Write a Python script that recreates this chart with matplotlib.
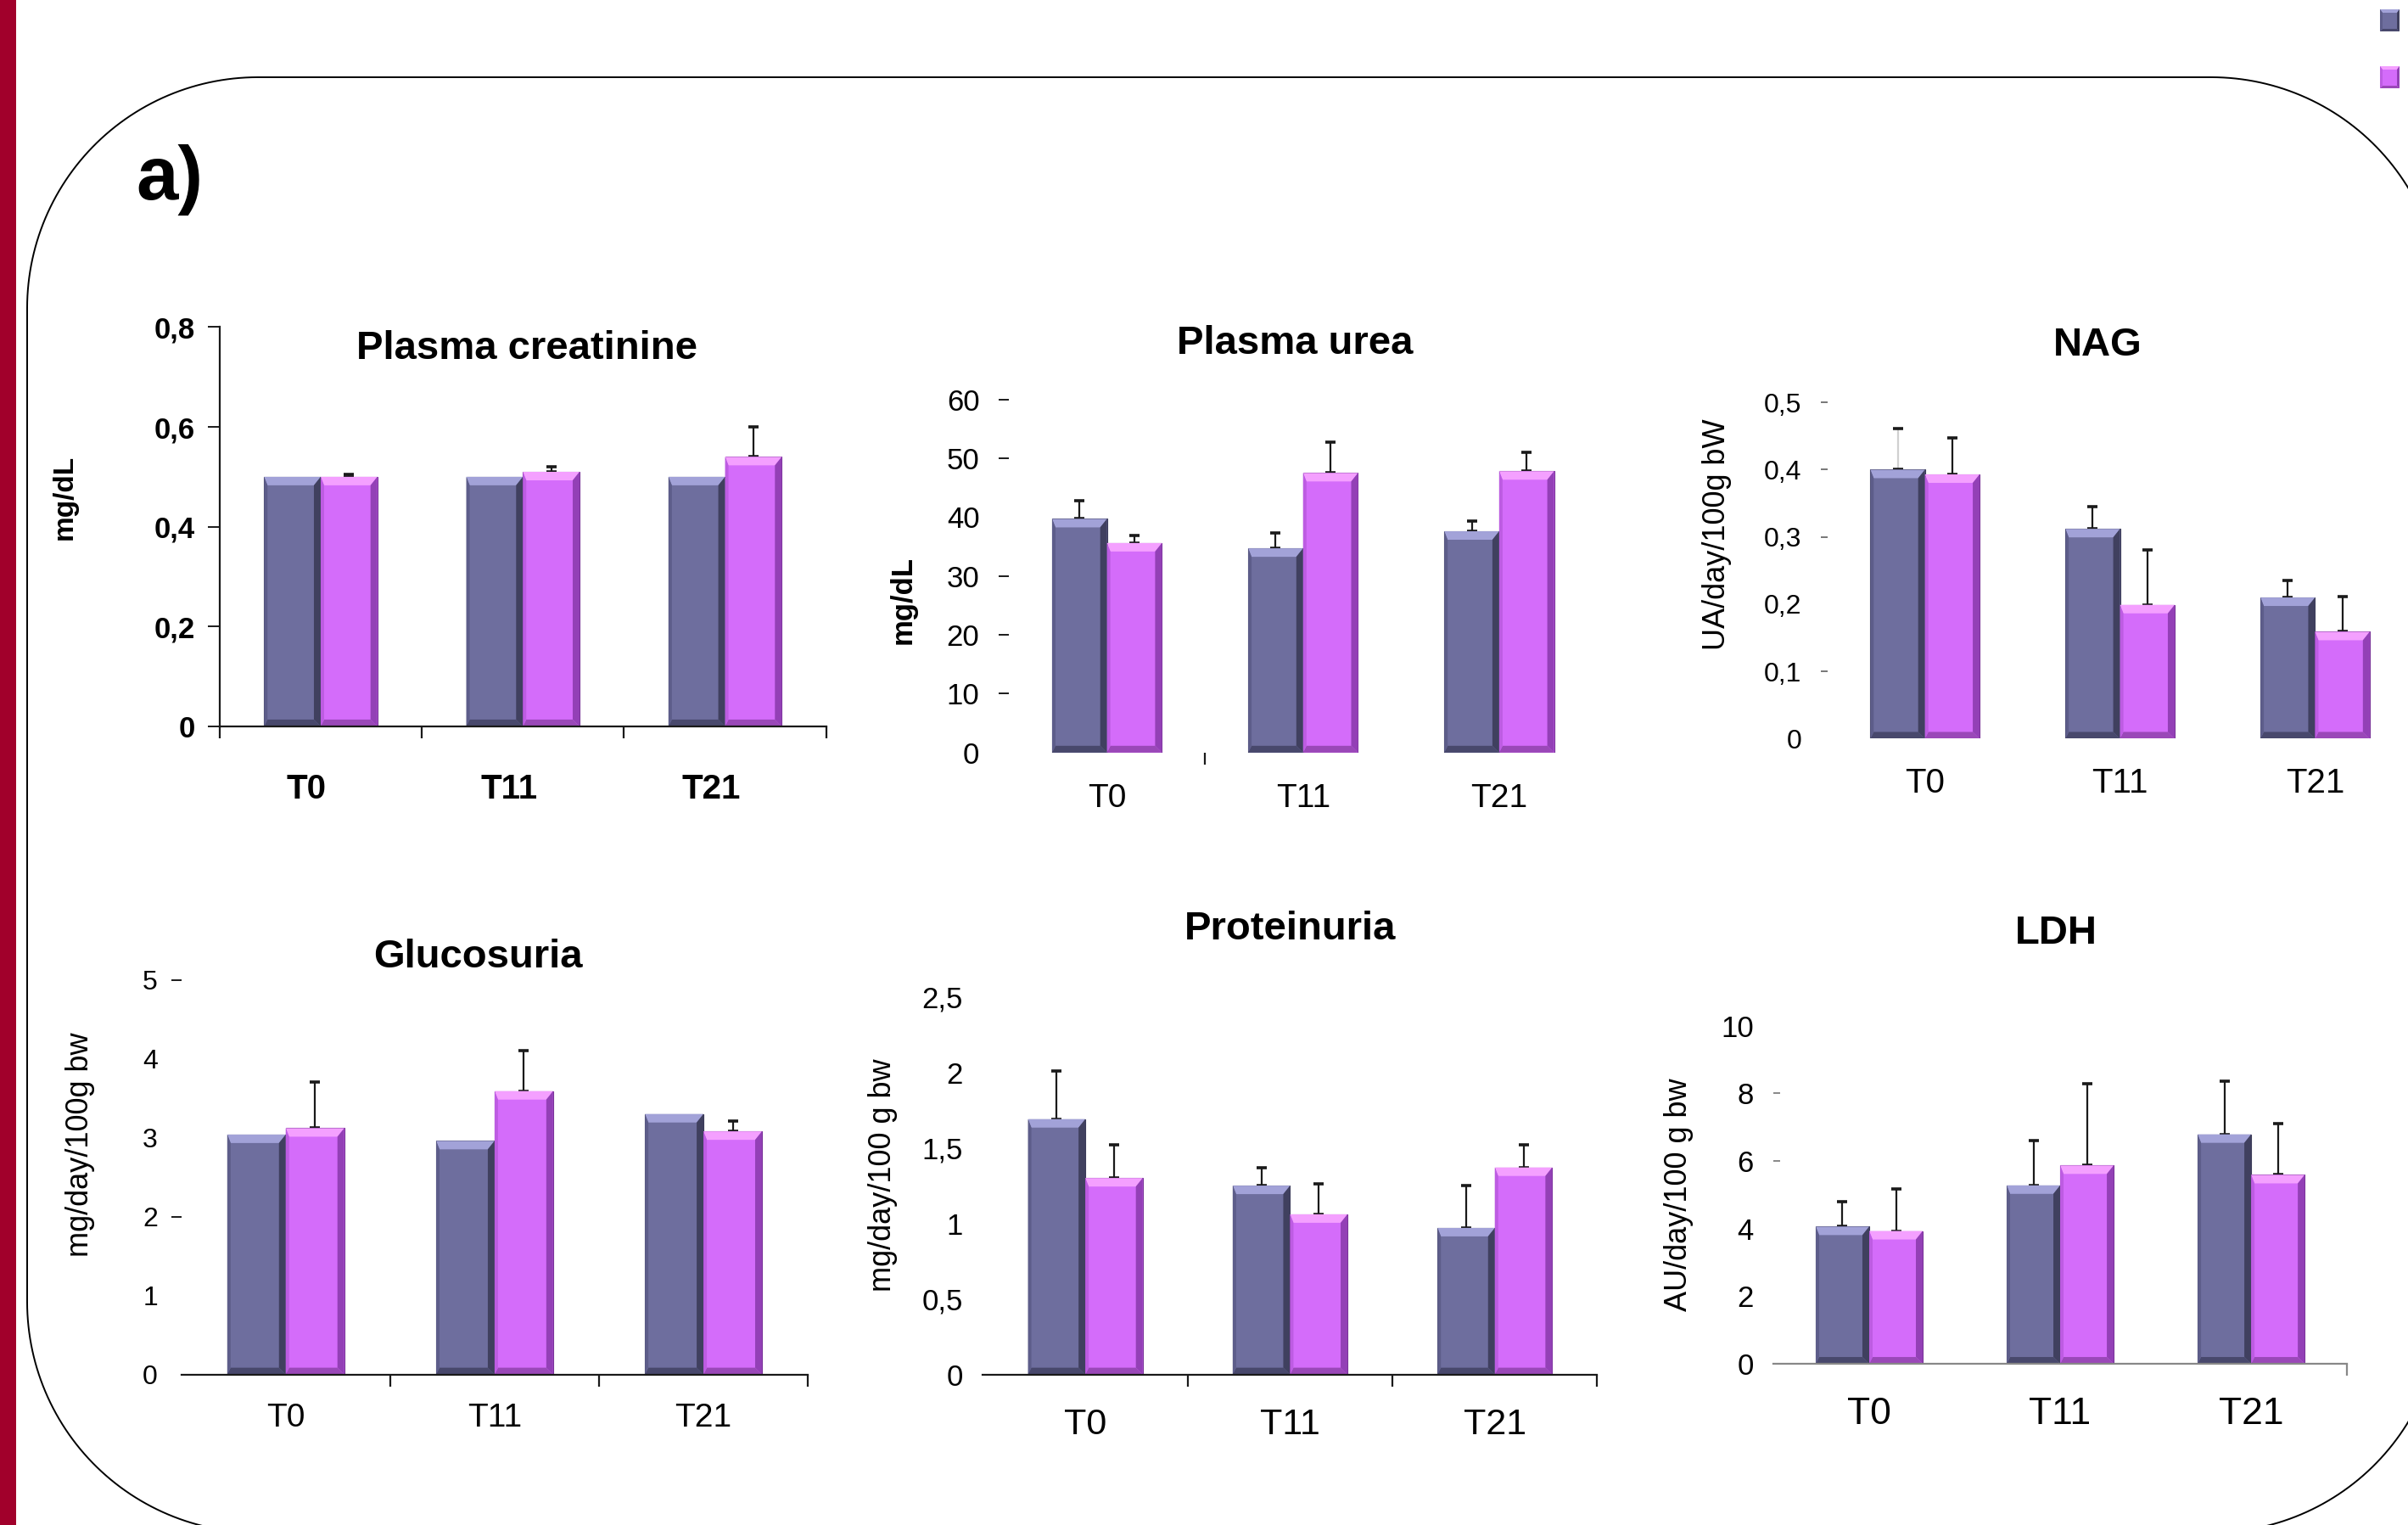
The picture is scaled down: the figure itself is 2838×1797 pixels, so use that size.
import numpy as np
import matplotlib
matplotlib.use('Agg')
import matplotlib.pyplot as plt
from matplotlib.patches import Polygon, Rectangle
from matplotlib.ticker import NullFormatter
from matplotlib.transforms import IdentityTransform, ScaledTranslation

plt.rcParams['font.family'] = ['Liberation Sans', 'DejaVu Sans']

W, H = 2838, 1797
times = ['T0', 'T11', 'T21']

# means and upper SD, dark = control group, pink = treated group
creat_ctrl = [0.50, 0.50, 0.50]
creat_ctrl_sd = [0.0, 0.0, 0.0]
creat_trt = [0.50, 0.51, 0.54]
creat_trt_sd = [0.005, 0.01, 0.06]
creat_ticks = [0, 0.2, 0.4, 0.6, 0.8]
creat_ticklabels = ['0', '0,2', '0,4', '0,6', '0,8']

urea_ctrl = [39.7, 34.7, 37.6]
urea_ctrl_sd = [3.1, 2.6, 1.7]
urea_trt = [35.6, 47.5, 47.8]
urea_trt_sd = [1.3, 5.2, 3.2]
urea_ticks = [0, 10, 20, 30, 40, 50, 60]
urea_ticklabels = ['0', '10', '20', '30', '40', '50', '60']

nag_ctrl = [0.400, 0.312, 0.210]
nag_ctrl_sd = [0.061, 0.033, 0.025]
nag_trt = [0.393, 0.199, 0.159]
nag_trt_sd = [0.054, 0.082, 0.052]
nag_ticks = [0, 0.1, 0.2, 0.3, 0.4, 0.5]
nag_ticklabels = ['0', '0,1', '0,2', '0,3', '0,4', '0,5']

gluc_ctrl = [3.04, 2.96, 3.30]
gluc_ctrl_sd = [0.0, 0.0, 0.0]
gluc_trt = [3.12, 3.59, 3.08]
gluc_trt_sd = [0.58, 0.51, 0.13]
gluc_ticks = [0, 1, 2, 3, 4, 5]
gluc_ticklabels = ['0', '1', '2', '3', '4', '5']

prot_ctrl = [1.69, 1.25, 0.97]
prot_ctrl_sd = [0.32, 0.12, 0.28]
prot_trt = [1.30, 1.06, 1.37]
prot_trt_sd = [0.22, 0.20, 0.15]
prot_ticks = [0, 0.5, 1, 1.5, 2, 2.5]
prot_ticklabels = ['0', '0,5', '1', '1,5', '2', '2,5']

ldh_ctrl = [4.06, 5.28, 6.79]
ldh_ctrl_sd = [0.73, 1.33, 1.58]
ldh_trt = [3.93, 5.87, 5.59]
ldh_trt_sd = [1.24, 2.42, 1.52]
ldh_ticks = [0, 2, 4, 6, 8, 10]
ldh_ticklabels = ['0', '2', '4', '6', '8', '10']

ink = '#1a1a1a'
dark_shades = dict(face='#6e6e9e', edge='#3a3a58',
                   bevel=['#a2a2d8', '#40405f', '#48486c', '#5d5d8a'])
pink_shades = dict(face='#d46cfa', edge='#7a3399',
                   bevel=['#f4a0ff', '#9340b6', '#9a48b8', '#bd5ce2'])

panels = [
    dict(title='Plasma creatinine', ylabel='mg/dL',
         ctrl=creat_ctrl, ctrl_sd=creat_ctrl_sd, trt=creat_trt, trt_sd=creat_trt_sd,
         ticks=creat_ticks, ticklabels=creat_ticklabels,
         pos=[0.0912, 0.5237, 0.2519, 0.2618], title_xy=(0.506, 0.946), ylab_xy=(0.0268, 0.6737),
         weight='bold', ylab_weight='bold', tick_fs=25, x_fs=29, ylab_fs=24, xshift=-12,
         ymarks=creat_ticks, ymark_len=10, ymark_col=ink, ydir='out', ypad=11,
         xmarks=[-0.5, 0.5, 1.5, 2.5], xmark_col=ink, xpad=40,
         spines=dict(left=ink, bottom=ink)),
    dict(title='Plasma urea', ylabel='mg/dL',
         ctrl=urea_ctrl, ctrl_sd=urea_ctrl_sd, trt=urea_trt, trt_sd=urea_trt_sd,
         ticks=urea_ticks, ticklabels=urea_ticklabels,
         pos=[0.4190, 0.5065, 0.2443, 0.2316], title_xy=(0.486, 1.157), ylab_xy=(0.375, 0.6063),
         weight='normal', ylab_weight='bold', tick_fs=25, x_fs=28, ylab_fs=25, xshift=0,
         ymarks=[10, 20, 30, 50, 60], ymark_len=9, ymark_col=ink, ydir='out', ypad=16,
         xmarks=[0.5], xmark_col=ink, xpad=26, spines={}),
    dict(title='NAG', ylabel='UA/day/100g bW',
         ctrl=nag_ctrl, ctrl_sd=nag_ctrl_sd, trt=nag_trt, trt_sd=nag_trt_sd,
         ticks=nag_ticks, ticklabels=nag_ticklabels,
         pos=[0.7589, 0.5156, 0.2430, 0.2205], title_xy=(0.462, 1.169), ylab_xy=(0.713, 0.6495),
         weight='normal', ylab_weight='normal', tick_fs=23, x_fs=29, ylab_fs=26, xshift=0,
         ymarks=[0.1, 0.3, 0.4, 0.5], ymark_len=6, ymark_col='#777777', ydir='out', ypad=16,
         xmarks=[], xmark_col=ink, xpad=24, spines={},
         ctrl_ecolors=['#d0d0d0', ink, ink]),
    dict(title='Glucosuria', ylabel='mg/day/100g bw',
         ctrl=gluc_ctrl, ctrl_sd=gluc_ctrl_sd, trt=gluc_trt, trt_sd=gluc_trt_sd,
         ticks=gluc_ticks, ticklabels=gluc_ticklabels,
         pos=[0.0753, 0.0987, 0.2602, 0.2588], title_xy=(0.473, 1.058), ylab_xy=(0.0332, 0.2497),
         weight='normal', ylab_weight='normal', tick_fs=23, x_fs=28, ylab_fs=26, xshift=0,
         ymarks=[2, 5], ymark_len=9, ymark_col=ink, ydir='out', ypad=11,
         xmarks=[0.5, 1.5, 2.5], xmark_col=ink, xpad=24, spines=dict(bottom=ink)),
    dict(title='Proteinuria', ylabel='mg/day/100 g bw',
         ctrl=prot_ctrl, ctrl_sd=prot_ctrl_sd, trt=prot_trt, trt_sd=prot_trt_sd,
         ticks=prot_ticks, ticklabels=prot_ticklabels,
         pos=[0.4082, 0.0987, 0.2551, 0.2477], title_xy=(0.5, 1.179), ylab_xy=(0.3667, 0.2296),
         weight='normal', ylab_weight='normal', tick_fs=25, x_fs=31, ylab_fs=26, xshift=0,
         ymarks=[], ymark_len=0, ymark_col=ink, ydir='out', ypad=17,
         xmarks=[0.5, 1.5, 2.5], xmark_col=ink, xpad=28, spines=dict(bottom=ink)),
    dict(title='LDH', ylabel='AU/day/100 g bw',
         ctrl=ldh_ctrl, ctrl_sd=ldh_ctrl_sd, trt=ldh_trt, trt_sd=ldh_trt_sd,
         ticks=ldh_ticks, ticklabels=ldh_ticklabels,
         pos=[0.7366, 0.1057, 0.2379, 0.2216], title_xy=(0.493, 1.273), ylab_xy=(0.6971, 0.2165),
         weight='normal', ylab_weight='normal', tick_fs=25, x_fs=32, ylab_fs=26, xshift=0,
         ymarks=[6, 8], ymark_len=6, ymark_col='#888888', ydir='in', ypad=17,
         xmarks=[2.5], xmark_col='#888888', xpad=28, spines=dict(bottom='#888888')),
]


def bevel(x0, y0, x1, y1, bl, br, bb, bt):
    top = [(x0, y1), (x1, y1), (x1 - br, y1 - bt), (x0 + bl, y1 - bt)]
    right = [(x1, y1), (x1, y0), (x1 - br, y0 + bb), (x1 - br, y1 - bt)]
    bottom = [(x0, y0), (x1, y0), (x1 - br, y0 + bb), (x0 + bl, y0 + bb)]
    left = [(x0, y0), (x0, y1), (x0 + bl, y1 - bt), (x0 + bl, y0 + bb)]
    return [top, right, bottom, left]


def shade_bars(ax, bars, shades):
    pos = ax.get_position()
    xl, yl = ax.get_xlim(), ax.get_ylim()
    sx = pos.width * W / (xl[1] - xl[0])
    sy = pos.height * H / (yl[1] - yl[0])
    for r in bars:
        x0, y0 = r.get_x(), r.get_y()
        x1, y1 = x0 + r.get_width(), y0 + r.get_height()
        for verts, c in zip(bevel(x0, y0, x1, y1, 4 / sx, 8 / sx, 8 / sy, 10 / sy), shades['bevel']):
            ax.add_patch(Polygon(verts, closed=True, fc=c, ec='none', zorder=2.5))


def rounded_frame(x0, y0, x1, y1, r, n=60):
    # rectangle with circular corners, in pixel coordinates
    pts = []
    corners = [(x1 - r, y1 - r, 90, 0), (x1 - r, y0 + r, 0, -90),
               (x0 + r, y0 + r, -90, -180), (x0 + r, y1 - r, 180, 90)]
    for cx, cy, a0, a1 in corners:
        a = np.radians(np.linspace(a0, a1, n))
        pts.extend(zip(cx + r * np.cos(a), cy + r * np.sin(a)))
    return pts


fig = plt.figure(figsize=(W / 100, H / 100), dpi=100)

x = np.arange(len(times))
bw = 0.28
for p in panels:
    ax = fig.add_axes(p['pos'])
    ax.set_xlim(-0.5, 2.5)
    ax.set_ylim(p['ticks'][0], p['ticks'][-1])
    ax.set_autoscale_on(False)

    series = [(x - bw / 2, p['ctrl'], p['ctrl_sd'], dark_shades, p.get('ctrl_ecolors')),
              (x + bw / 2, p['trt'], p['trt_sd'], pink_shades, None)]
    for xs, vals, sd, sh, ecols in series:
        bars = ax.bar(xs, vals, bw, color=sh['face'], edgecolor=sh['edge'], linewidth=0.8, zorder=2)
        shade_bars(ax, bars, sh)
        sd = np.asarray(sd)
        keep = sd > 0
        if keep.any():
            _, caps, lines = ax.errorbar(xs[keep], np.asarray(vals)[keep],
                                         yerr=[np.zeros(keep.sum()), sd[keep]],
                                         fmt='none', ecolor=ink, elinewidth=1.6,
                                         capsize=4, capthick=2.6, zorder=1)
            if ecols is not None:
                lines[0].set_color([c for c, k in zip(ecols, keep) if k])

    for side in ['left', 'right', 'top', 'bottom']:
        col = p['spines'].get(side)
        if col is None:
            ax.spines[side].set_visible(False)
        else:
            ax.spines[side].set_color(col)
            ax.spines[side].set_linewidth(1.6)

    # y axis: labels everywhere, tick dashes only where drawn
    ax.set_yticks(p['ticks'])
    ax.set_yticklabels(p['ticklabels'], fontsize=p['tick_fs'], fontweight=p['weight'])
    ax.tick_params(axis='y', length=p['ymark_len'], width=1.4, color=p['ymark_col'],
                   direction=p['ydir'], pad=p['ypad'])
    for t, v in zip(ax.yaxis.get_major_ticks(), p['ticks']):
        if v not in p['ymarks']:
            t.tick1line.set_visible(False)

    # x axis: marks between groups, labels centred on groups
    ax.set_xticks(p['xmarks'])
    ax.xaxis.set_major_formatter(NullFormatter())
    ax.tick_params(axis='x', which='major', length=10, width=1.6, color=p['xmark_col'])
    ax.set_xticks(x, minor=True)
    ax.set_xticklabels(times, minor=True, fontsize=p['x_fs'], fontweight=p['weight'])
    ax.tick_params(axis='x', which='minor', length=0, pad=p['xpad'])
    if p['xshift']:
        shift = ScaledTranslation(p['xshift'] / 72, 0, fig.dpi_scale_trans)
        for lab in ax.get_xticklabels(minor=True):
            lab.set_transform(lab.get_transform() + shift)

    ax.patch.set_visible(False)
    ax.text(p['title_xy'][0], p['title_xy'][1], p['title'], transform=ax.transAxes,
            ha='center', va='center', fontsize=34, fontweight='bold')
    fig.text(p['ylab_xy'][0], p['ylab_xy'][1], p['ylabel'], rotation=90,
             ha='center', va='center', fontsize=p['ylab_fs'], fontweight=p['ylab_weight'])

# slide decoration: red side band, rounded frame, panel tag
fig.add_artist(Rectangle((0, 0), 19, H, transform=IdentityTransform(), fc='#a1002b', ec='none'))
fig.add_artist(Polygon(rounded_frame(32, -9, 2878, 1706, 272), closed=True,
                       transform=IdentityTransform(), fill=False, ec='black', lw=1.4))
fig.text(200 / W, 1 - 212 / H, 'a)', fontsize=64, fontweight='bold', ha='center', va='center')

# legend swatches (clipped at the top right)
for (ly, sh) in [(1760, dark_shades), (1693, pink_shades)]:
    x0, y0, x1, y1 = 2805, ly, 2828, ly + 26
    fig.add_artist(Rectangle((x0, y0), x1 - x0, y1 - y0, transform=IdentityTransform(),
                             fc=sh['face'], ec='none'))
    for verts, c in zip(bevel(x0, y0, x1, y1, 3, 3, 3, 4), sh['bevel']):
        fig.add_artist(Polygon(verts, closed=True, transform=IdentityTransform(), fc=c, ec='none'))

fig.savefig('out.png', dpi=100)
